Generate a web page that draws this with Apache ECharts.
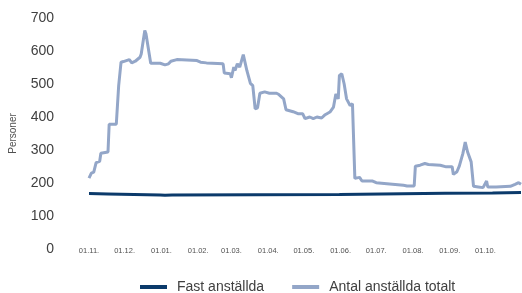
<!DOCTYPE html>
<html>
<head>
<meta charset="utf-8">
<script src="https://cdn.jsdelivr.net/npm/echarts@6/dist/echarts.min.js"></script>
<style>
  html, body { margin: 0; padding: 0; background: #ffffff; }
  #main { width: 522px; height: 293px; }
</style>
</head>
<body>
<div id="main"></div>
<script>
// månader (november -> oktober) och antal dagar
var monthLabels = ['11', '12', '01', '02', '03', '04', '05', '06', '07', '08', '09', '10'];
var monthDays = [30, 31, 31, 28, 31, 30, 31, 30, 31, 31, 30, 31];
var yTicks = [0, 100, 200, 300, 400, 500, 600, 700];

// [dagindex, personer]
var fastData = [
  [0, 168], [16, 167], [17, 165], [60, 164], [64, 163], [70, 164], [211, 165],
  [212, 168], [300, 169], [340, 170], [364, 171]
];
var totaltData = [
  [0, 215], [2, 230], [4, 233], [5, 236], [6, 262], [9, 266], [10, 290], [16, 294],
  [17, 378], [23, 378], [25, 495], [26, 500], [27, 566], [29, 568], [30, 574], [34, 574],
  [36, 564], [39, 569], [43, 581], [44, 591], [47, 662], [48, 652], [52, 563], [60, 563],
  [61, 566], [64, 558], [67, 561], [69, 569], [74, 574], [91, 571], [94, 566], [99, 564],
  [113, 561], [114, 533], [119, 531], [120, 519], [122, 551], [123, 541], [125, 561],
  [127, 551], [130, 589], [133, 541], [136, 502], [138, 495], [140, 425], [142, 428],
  [144, 472], [148, 476], [152, 472], [158, 472], [160, 468], [164, 455], [166, 422],
  [172, 416], [176, 410], [180, 410], [182, 395], [186, 400], [189, 395], [192, 400],
  [196, 397], [199, 407], [203, 415], [206, 430], [208, 470], [210, 455], [211, 526],
  [213, 531], [215, 500], [217, 455], [220, 435], [222, 440], [224, 214], [228, 217],
  [230, 206], [239, 206], [242, 201], [251, 198], [252, 193], [265, 193], [268, 191],
  [274, 191], [275, 251], [279, 254], [283, 259], [286, 256], [296, 254], [301, 249],
  [306, 249], [307, 226], [310, 234], [312, 251], [315, 289], [317, 324], [319, 294],
  [322, 264], [324, 190], [328, 188], [332, 186], [335, 206], [336, 188], [343, 188],
  [355, 190], [359, 196], [362, 201], [364, 196]
];

// en kategori per dag
var days = [];
for (var m = 0; m < monthLabels.length; m++) {
  for (var d = 1; d <= monthDays[m]; d++) {
    days.push((d < 10 ? '0' + d : '' + d) + '.' + monthLabels[m] + '.');
  }
}

var chart = echarts.init(document.getElementById('main'));
chart.setOption({
  animation: false,
  backgroundColor: '#ffffff',
  grid: { left: 89, right: 1, top: 18, bottom: 44 },
  legend: {
    left: 135,
    top: 275,
    itemWidth: 27,
    itemHeight: 4,
    itemGap: 28,
    icon: 'rect',
    textStyle: {
      fontFamily: 'Liberation Sans',
      fontSize: 14,
      color: '#404040',
      padding: [0, 0, 0, 5]
    },
    data: ['Fast anställda', 'Antal anställda totalt']
  },
  xAxis: {
    type: 'category',
    data: days,
    boundaryGap: false,
    axisLine: { show: false },
    axisTick: { show: false },
    splitLine: { show: false },
    axisLabel: {
      interval: function (i, v) { return v.indexOf('01.') === 0; },
      margin: -2,
      fontFamily: 'Liberation Sans',
      fontSize: 7.5,
      color: '#505050'
    }
  },
  yAxis: {
    type: 'value',
    min: 0,
    max: 700,
    interval: 100,
    name: 'Personer',
    nameLocation: 'middle',
    nameRotate: 90,
    nameGap: 71,
    nameTextStyle: { fontFamily: 'Liberation Sans', fontSize: 10, color: '#505050' },
    axisLine: { show: false },
    axisTick: { show: false },
    splitLine: { show: false },
    axisLabel: {
      margin: 35,
      fontFamily: 'Liberation Sans',
      fontSize: 14,
      color: '#404040',
      formatter: function (v) { return yTicks.indexOf(v) >= 0 ? v : ''; }
    }
  },
  series: [
    {
      name: 'Antal anställda totalt',
      type: 'line',
      data: totaltData,
      symbol: 'none',
      z: 2,
      itemStyle: { color: '#93a6c8' },
      lineStyle: { color: '#93a6c8', width: 3 }
    },
    {
      name: 'Fast anställda',
      type: 'line',
      data: fastData,
      symbol: 'none',
      z: 3,
      itemStyle: { color: '#0b3a6b' },
      lineStyle: { color: '#0b3a6b', width: 3 }
    }
  ]
});
</script>
</body>
</html>
